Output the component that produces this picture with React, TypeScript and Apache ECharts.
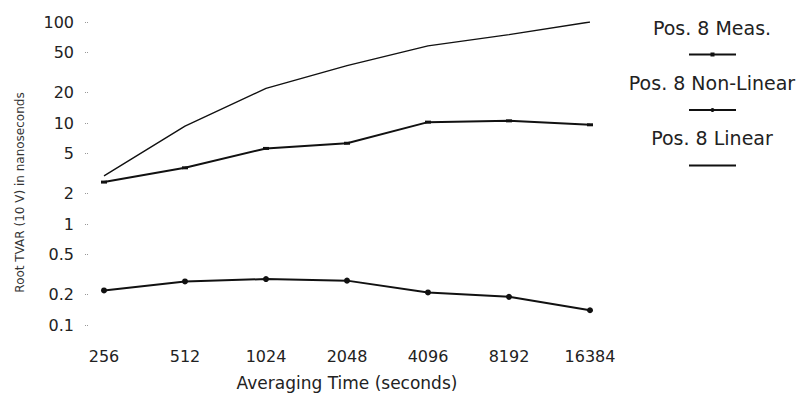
import React, { useEffect, useRef } from "react";
import * as echarts from "echarts";

const categories = ["256", "512", "1024", "2048", "4096", "8192", "16384"];
const measValues = [2.6, 3.6, 5.6, 6.3, 10.2, 10.5, 9.6];
const nonLinearValues = [0.22, 0.27, 0.285, 0.275, 0.21, 0.19, 0.14];
const linearValues = [3.0, 9.3, 22, 37, 58, 75, 100];
const yTickValues = [0.1, 0.2, 0.5, 1, 2, 5, 10, 20, 50, 100];
const seriesNames = ["Pos. 8 Meas.", "Pos. 8 Non-Linear", "Pos. 8 Linear"];

const FONT = "DejaVu Sans";

export default function App() {
  const ref = useRef<HTMLDivElement>(null);
  useEffect(() => {
    document.body.style.margin = "0";
    if (!ref.current) return;
    const chart = echarts.init(ref.current, undefined, { renderer: "svg" });
    chart.setOption({
      animation: false,
      backgroundColor: "#ffffff",
      grid: { left: 104, right: 211, top: 22, bottom: 79 },
      legend: [
        {
          data: [
            { name: seriesNames[0] },
            { name: seriesNames[1] },
            { name: seriesNames[2], itemStyle: { opacity: 0 } },
          ],
          orient: "vertical",
          left: 688,
          top: 52,
          padding: 0,
          itemWidth: 47,
          itemHeight: 5,
          itemGap: 51,
          formatter: () => "",
          selectedMode: false,
        },
        {
          data: seriesNames,
          orient: "vertical",
          left: 608,
          top: 18,
          padding: 0,
          itemWidth: 0,
          itemHeight: 0,
          itemGap: 36,
          itemStyle: { opacity: 0 },
          lineStyle: { opacity: 0 },
          selectedMode: false,
          formatter: (name: string) => "{t|" + name + "}",
          textStyle: {
            rich: {
              t: {
                width: 196,
                align: "center",
                fontFamily: FONT,
                fontSize: 19,
                lineHeight: 20,
                color: "#222",
              },
            },
          },
        },
      ],
      xAxis: {
        type: "category",
        data: categories,
        boundaryGap: false,
        axisLine: { show: false },
        axisTick: { show: false },
        axisLabel: { margin: 23, fontFamily: FONT, fontSize: 16, color: "#222" },
        name: "Averaging Time (seconds)",
        nameLocation: "middle",
        nameGap: 49,
        nameTextStyle: { fontFamily: FONT, fontSize: 17, color: "#222" },
      },
      yAxis: {
        type: "log",
        logBase: 10,
        min: 0.1,
        max: 100,
        offset: 16,
        axisLine: { show: false },
        splitLine: { show: false },
        axisTick: {
          show: true,
          length: 3,
          customValues: yTickValues,
          lineStyle: { color: "#999", type: "dotted" },
        },
        axisLabel: {
          margin: 14,
          customValues: yTickValues,
          fontFamily: FONT,
          fontSize: 16,
          color: "#222",
          formatter: (v: number) => String(parseFloat(Number(v).toPrecision(3))),
        },
        name: "Root TVAR (10 V) in nanoseconds",
        nameLocation: "middle",
        nameGap: 62,
        nameTextStyle: { fontFamily: FONT, fontSize: 12, color: "#333", padding: [0, 38, 0, 0] },
      },
      series: [
        {
          name: seriesNames[0],
          type: "line",
          data: measValues,
          symbol: "rect",
          symbolSize: [6, 3],
          itemStyle: { color: "#111" },
          lineStyle: { color: "#111", width: 2 },
        },
        {
          name: seriesNames[1],
          type: "line",
          data: nonLinearValues,
          symbol: "circle",
          symbolSize: 6,
          itemStyle: { color: "#111" },
          lineStyle: { color: "#111", width: 2 },
        },
        {
          name: seriesNames[2],
          type: "line",
          data: linearValues,
          symbol: "none",
          itemStyle: { color: "#111" },
          lineStyle: { color: "#111", width: 1.4 },
        },
      ],
    });
    return () => chart.dispose();
  }, []);
  return <div ref={ref} style={{ width: 801, height: 404 }} />;
}
